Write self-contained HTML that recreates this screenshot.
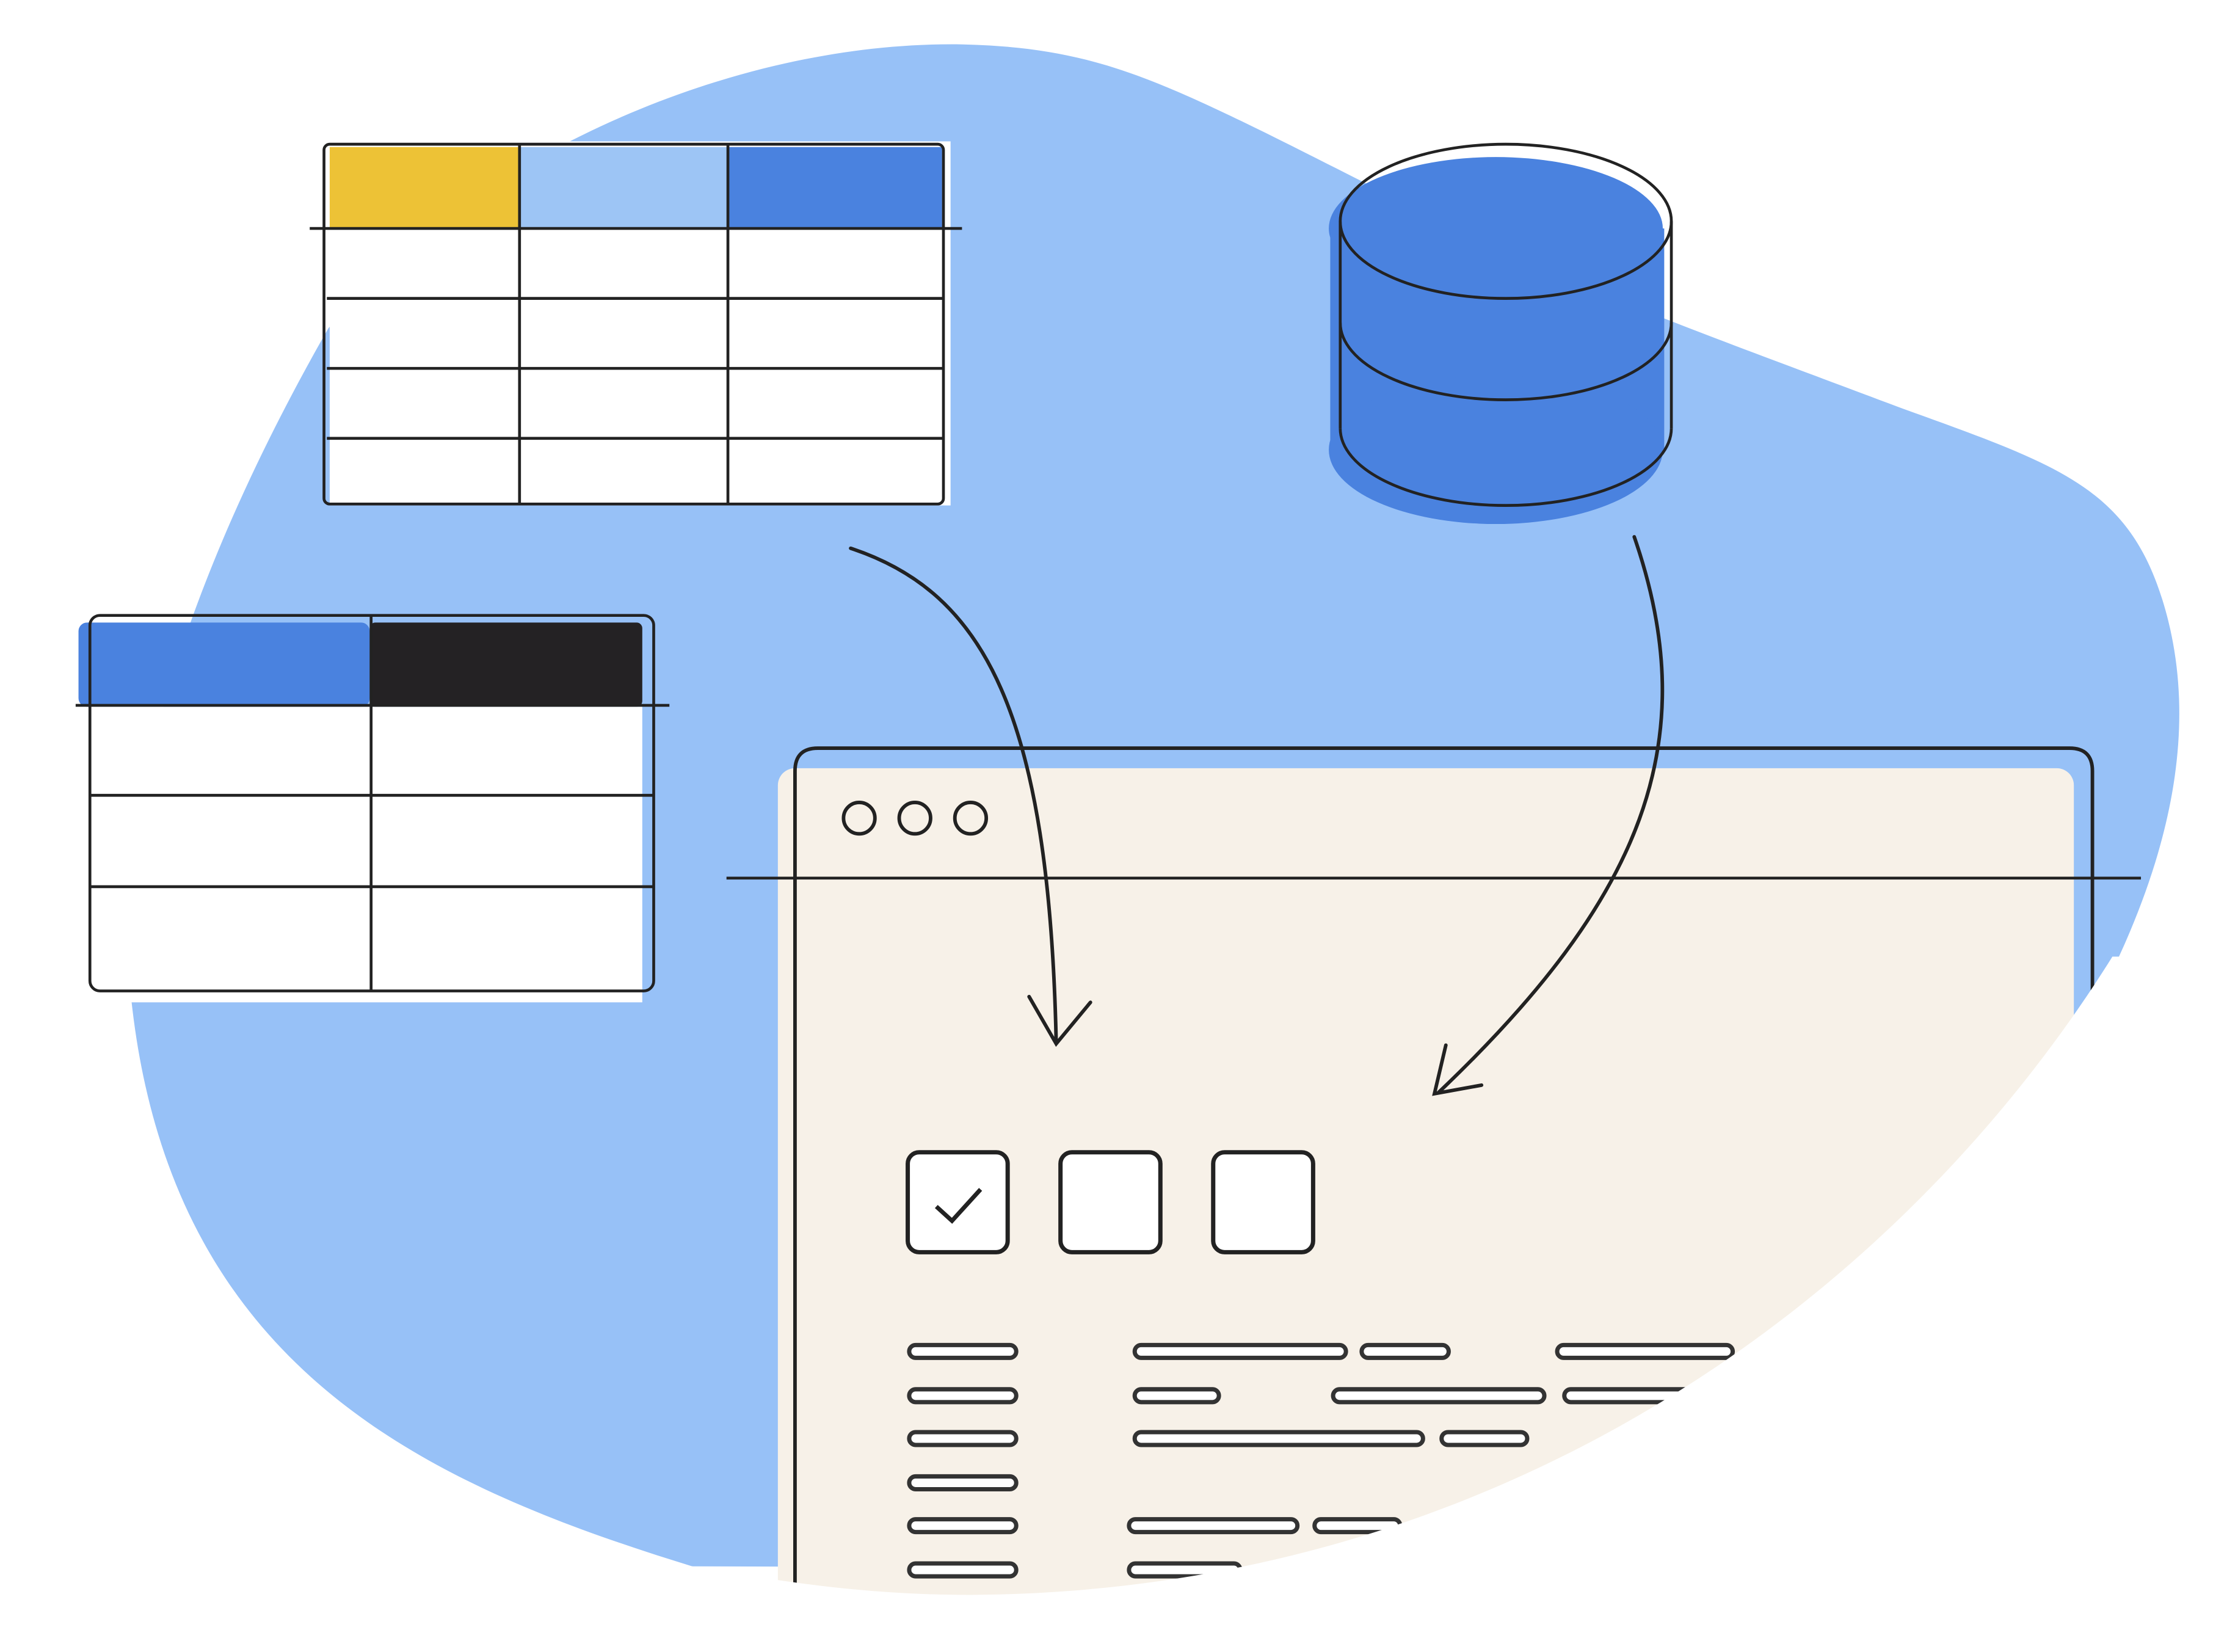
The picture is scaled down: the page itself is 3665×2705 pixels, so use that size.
<!DOCTYPE html>
<html><head><meta charset="utf-8"><style>
html,body{margin:0;padding:0;background:#fff;}
svg{display:block;width:3665px;height:2705px;}
</style></head><body>
<svg viewBox="0 0 1568 1157" preserveAspectRatio="none" xmlns="http://www.w3.org/2000/svg">
<path d="M485,1097 C300,1040 120,960 92,700 C80,600 110,440 230,230 C320,120 500,30 670,31 C780,33 820,60 1000,150 C1100,200 1170,225 1330,285 C1440,325 1490,340 1515,420 C1540,500 1525,590 1475,690 L1400,1100 Z" fill="#97C1F7"/>
<rect x="545" y="538" width="908" height="620" rx="12" fill="#F7F1E8"/>
<path d="M557,1120 L557,540 Q557,524 573,524 L1450,524 Q1466,524 1466,540 L1466,710" fill="none" stroke="#222" stroke-width="2.5"/>
<line x1="509" y1="615" x2="1500" y2="615" stroke="#222" stroke-width="2"/>
<g fill="none" stroke="#222" stroke-width="2.5">
<circle cx="602" cy="573" r="11"/><circle cx="641" cy="573" r="11"/><circle cx="680" cy="573" r="11"/>
</g>
<g fill="#fff" stroke="#222" stroke-width="3">
<rect x="636" y="807" width="70" height="70" rx="8"/>
<rect x="743" y="807" width="70" height="70" rx="8"/>
<rect x="850" y="807" width="70" height="70" rx="8"/>
</g>
<path d="M656,845 L667,855 L687,833" fill="none" stroke="#222" stroke-width="3"/>
<g fill="#fff" stroke="#333" stroke-width="3">
<rect x="637" y="942" width="75" height="9" rx="4.5"/>
<rect x="637" y="973" width="75" height="9" rx="4.5"/>
<rect x="637" y="1003" width="75" height="9" rx="4.5"/>
<rect x="637" y="1034" width="75" height="9" rx="4.5"/>
<rect x="637" y="1064" width="75" height="9" rx="4.5"/>
<rect x="637" y="1095" width="75" height="9" rx="4.5"/>
<rect x="795" y="942" width="148" height="9" rx="4.5"/>
<rect x="954" y="942" width="61" height="9" rx="4.5"/>
<rect x="1091" y="942" width="123" height="9" rx="4.5"/>
<rect x="795" y="973" width="59" height="9" rx="4.5"/>
<rect x="934" y="973" width="148" height="9" rx="4.5"/>
<rect x="1096" y="973" width="110" height="9" rx="4.5"/>
<rect x="795" y="1003" width="202" height="9" rx="4.5"/>
<rect x="1010" y="1003" width="60" height="9" rx="4.5"/>
<rect x="791" y="1064" width="118" height="9" rx="4.5"/>
<rect x="921" y="1064" width="60" height="9" rx="4.5"/>
<rect x="791" y="1095" width="78" height="9" rx="4.5"/>
</g>
<path d="M1480,670 C1330,910 1050,1115 680,1117 C600,1117 540,1106 485,1097 L0,1105 L0,1160 L1570,1160 L1570,670 Z" fill="#fff"/>
<rect x="231" y="99" width="435" height="255" fill="#fff"/>
<rect x="231" y="103" width="133" height="57" fill="#EDC236"/>
<rect x="364" y="103" width="146" height="57" fill="#9DC5F5"/>
<rect x="510" y="103" width="150" height="57" fill="#4A82DF"/>
<g fill="none" stroke="#222" stroke-width="2">
<rect x="227" y="101" width="434" height="252" rx="4"/>
<line x1="217" y1="160" x2="674" y2="160"/>
<line x1="229" y1="209" x2="661" y2="209"/>
<line x1="229" y1="258" x2="661" y2="258"/>
<line x1="229" y1="307" x2="661" y2="307"/>
<line x1="364" y1="101" x2="364" y2="353"/>
<line x1="510" y1="101" x2="510" y2="353"/>
</g>
<rect x="55" y="436" width="204" height="59" rx="6" fill="#4A82DF"/>
<rect x="259" y="436" width="191" height="59" rx="4" fill="#242224"/>
<rect x="63" y="495" width="387" height="207" fill="#fff"/>
<g fill="none" stroke="#222" stroke-width="2">
<rect x="63" y="431" width="395" height="263" rx="7"/>
<line x1="53" y1="494" x2="469" y2="494"/>
<line x1="63" y1="557" x2="458" y2="557"/>
<line x1="63" y1="621" x2="458" y2="621"/>
<line x1="260" y1="431" x2="260" y2="694"/>
</g>
<g fill="#4A82DF">
<ellipse cx="1048" cy="160" rx="117" ry="50"/>
<rect x="932" y="160" width="234" height="155"/>
<ellipse cx="1048" cy="315" rx="117" ry="52"/>
</g>
<g fill="none" stroke="#222" stroke-width="2">
<ellipse cx="1055" cy="155" rx="116" ry="54"/>
<path d="M939,226 A116,54 0 0 0 1171,226"/>
<path d="M939,300 A116,54 0 0 0 1171,300"/>
<line x1="939" y1="155" x2="939" y2="300"/>
<line x1="1171" y1="155" x2="1171" y2="300"/>
</g>
<g fill="none" stroke="#222" stroke-width="2.5" stroke-linecap="round">
<path d="M596,384 C690,415 735,500 740,730"/>
<path d="M721,698 L740,731 L764,702"/>
<path d="M1145,376 C1195,520 1150,630 1008,765"/>
<path d="M1013,732 L1005,766 L1038,760"/>
</g>
</svg>
</body></html>
